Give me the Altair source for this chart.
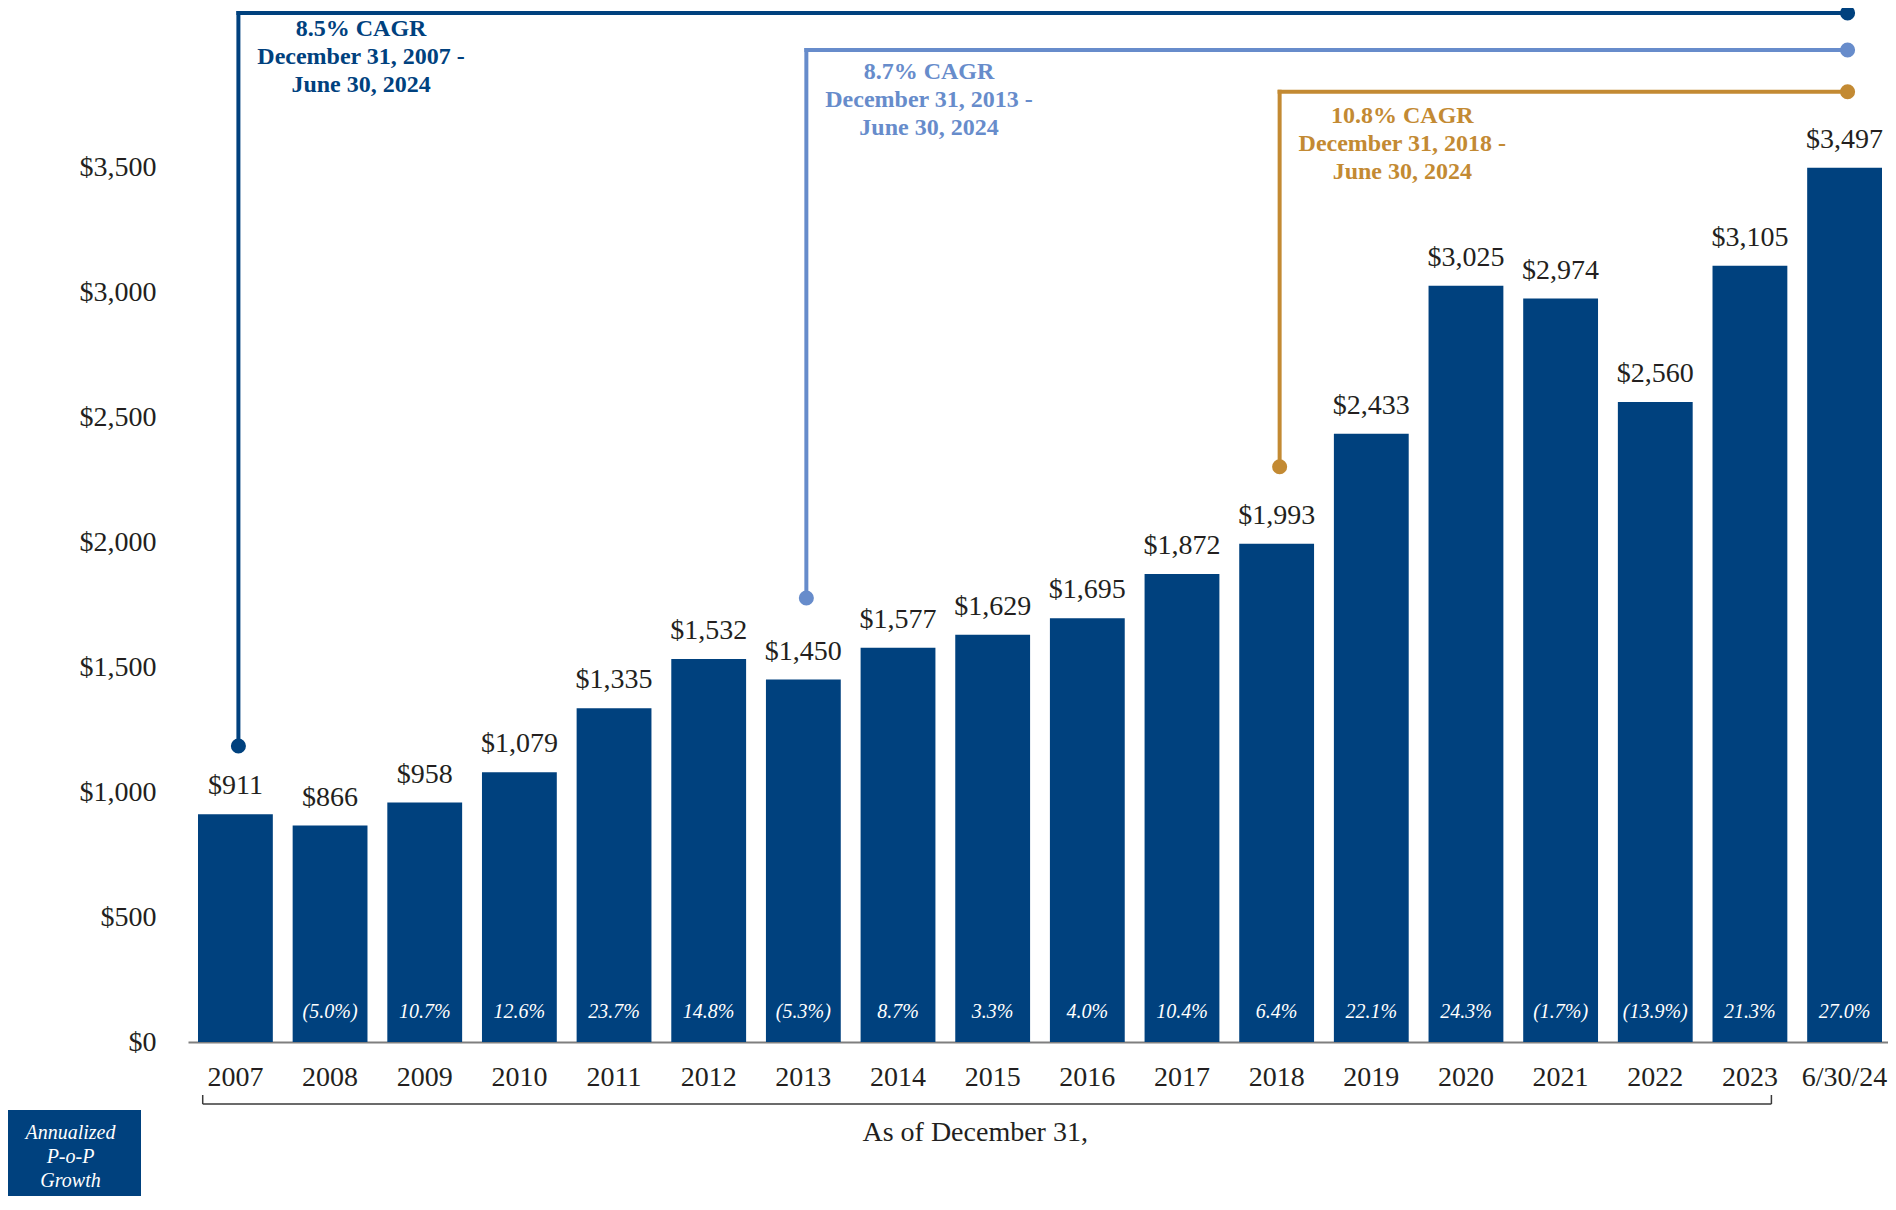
import altair as alt
import pandas as pd

# ---------------- data ----------------
categories = ["2007", "2008", "2009", "2010", "2011", "2012", "2013", "2014", "2015",
              "2016", "2017", "2018", "2019", "2020", "2021", "2022", "2023", "6/30/24"]
values = [911, 866, 958, 1079, 1335, 1532, 1450, 1577, 1629, 1695, 1872, 1993,
          2433, 3025, 2974, 2560, 3105, 3497]
growth = ["", "(5.0%)", "10.7%", "12.6%", "23.7%", "14.8%", "(5.3%)", "8.7%", "3.3%",
          "4.0%", "10.4%", "6.4%", "22.1%", "24.3%", "(1.7%)", "(13.9%)", "21.3%", "27.0%"]

y_ticks = [0, 500, 1000, 1500, 2000, 2500, 3000, 3500]

cagr_text = ["8.5% CAGR\nDecember 31, 2007 -\nJune 30, 2024",
             "8.7% CAGR\nDecember 31, 2013 -\nJune 30, 2024",
             "10.8% CAGR\nDecember 31, 2018 -\nJune 30, 2024"]
cagr_key = ["a", "b", "c"]
cagr_start = ["2007", "2013", "2018"]
cagr_label_at = ["2008", "2014", "2019"]
cagr_end = ["6/30/24", "6/30/24", "6/30/24"]
cagr_top = [4116, 3968, 3801]
cagr_bottom = [1184, 1776, 2301]
cagr_text_y = [4052, 3882, 3706]
cagr_colors = ["#00417E", "#678CCB", "#C38A33"]

NAVY = "#00417E"
INK = "#231F20"
FONT = "Liberation Serif"

bars = pd.DataFrame({"cat": categories, "value": values, "growth": growth})
cagr = pd.DataFrame({"key": cagr_key, "text": cagr_text, "start": cagr_start,
                     "label_at": cagr_label_at, "end": cagr_end,
                     "top": cagr_top, "bottom": cagr_bottom, "ty": cagr_text_y})

# ---------------- scales / encodings ----------------
xscale = alt.Scale(domain=categories, paddingInner=0.2095, paddingOuter=0.0845,
                   align=0.625, round=False)
yscale = alt.Scale(domain=[0, 4136], nice=False)

xaxis = alt.Axis(title=None, ticks=False, grid=False, domain=True, domainColor="#7F7F7F",
                 domainWidth=2, labelFont=FONT, labelFontSize=28, labelColor=INK,
                 labelPadding=35, labelBaseline="middle", labelAngle=0)
yaxis = alt.Axis(title=None, ticks=False, grid=False, domain=False, values=y_ticks,
                 format="$,.0f", labelFont=FONT, labelFontSize=28, labelColor=INK,
                 labelPadding=32)


def X(field, bp=None):
    kw = {}
    if bp is not None:
        kw["bandPosition"] = bp
    return alt.X(f"{field}:N", scale=xscale, axis=xaxis, **kw)


def X2(field, bp=None):
    kw = {}
    if bp is not None:
        kw["bandPosition"] = bp
    return alt.X2(f"{field}:N", **kw)


def Y(field):
    return alt.Y(f"{field}:Q", scale=yscale, axis=yaxis)


def YD(v):
    return alt.YDatum(v, scale=yscale, axis=yaxis)


color = alt.Color("key:N", scale=alt.Scale(domain=cagr_key, range=cagr_colors), legend=None)

# ---------------- layers ----------------
bar_layer = alt.Chart(bars).mark_bar(color=NAVY).encode(x=X("cat"), y=Y("value"))

value_labels = alt.Chart(bars).mark_text(
    font=FONT, fontSize=28, color=INK, baseline="middle", dy=-28
).encode(x=X("cat"), y=Y("value"), text=alt.Text("value:Q", format="$,.0f"))

growth_labels = alt.Chart(bars).mark_text(
    font=FONT, fontSize=20, fontStyle="italic", color="white", baseline="middle"
).encode(x=X("cat"), y=YD(120), text="growth:N")

BP = 0.54
cagr_vert = alt.Chart(cagr).mark_rule(strokeWidth=4, strokeCap="square").encode(
    x=X("start", BP), y=Y("bottom"), y2="top:Q", color=color)
cagr_horiz = alt.Chart(cagr).mark_rule(strokeWidth=4, strokeCap="square").encode(
    x=X("start", BP), x2=X2("end", BP), y=Y("top"), color=color)
cagr_dot_bottom = alt.Chart(cagr).mark_point(filled=True, shape="circle", size=227, opacity=1).encode(
    x=X("start", BP), y=Y("bottom"), color=color)
cagr_dot_top = alt.Chart(cagr).mark_point(filled=True, shape="circle", size=227, opacity=1).encode(
    x=X("end", BP), y=Y("top"), color=color)
cagr_labels = alt.Chart(cagr).mark_text(
    font=FONT, fontSize=24, fontWeight="bold", lineBreak="\n", lineHeight=28,
    baseline="middle", align="center", dx=31
).encode(x=X("label_at"), y=Y("ty"), text="text:N", color=color)

# bracket under the calendar years
bracket_df = pd.DataFrame({"a": ["2007"], "b": ["2023"]})
br_h = alt.Chart(bracket_df).mark_rule(color="#3A3A3A", strokeWidth=1.5).encode(
    x=X("a", 0.063), x2=X2("b", 0.787), y=YD(-248))
br_l = alt.Chart(bracket_df).mark_rule(color="#3A3A3A", strokeWidth=1.5).encode(
    x=X("a", 0.063), y=YD(-212), y2=alt.Y2Datum(-248))
br_r = alt.Chart(bracket_df).mark_rule(color="#3A3A3A", strokeWidth=1.5).encode(
    x=X("b", 0.787), y=YD(-212), y2=alt.Y2Datum(-248))

as_of_df = pd.DataFrame({"at": ["2015"], "t": ["As of December 31,"]})
as_of = alt.Chart(as_of_df).mark_text(
    font=FONT, fontSize=28, color=INK, baseline="middle", dx=-17.5
).encode(x=X("at"), y=YD(-364), text="t:N")

box_df = pd.DataFrame({"t": ["Annualized\nP-o-P\nGrowth"]})
box = alt.Chart(box_df).mark_rect(color=NAVY).encode(
    x=alt.value(-190), x2=alt.value(-47), y=YD(-272), y2=alt.Y2Datum(-900))
box_text = alt.Chart(box_df).mark_text(
    font=FONT, fontSize=20, fontStyle="italic", color="white", lineBreak="\n",
    lineHeight=24, baseline="middle", align="center"
).encode(x=alt.value(-117.5), y=YD(-364), text="t:N")

chart = alt.layer(
    bar_layer, value_labels, growth_labels,
    cagr_horiz, cagr_vert, cagr_dot_bottom, cagr_dot_top, cagr_labels,
    br_h, br_l, br_r, as_of, box, box_text
).properties(
    width=1700, height=1034,
    autosize=alt.AutoSizeParams(type="none"),
    padding={"left": 180, "top": 0, "right": 0, "bottom": 154},
    background="white",
).configure_view(stroke=None)

chart.save("out.html", embed_options={"renderer": "svg", "actions": False})
